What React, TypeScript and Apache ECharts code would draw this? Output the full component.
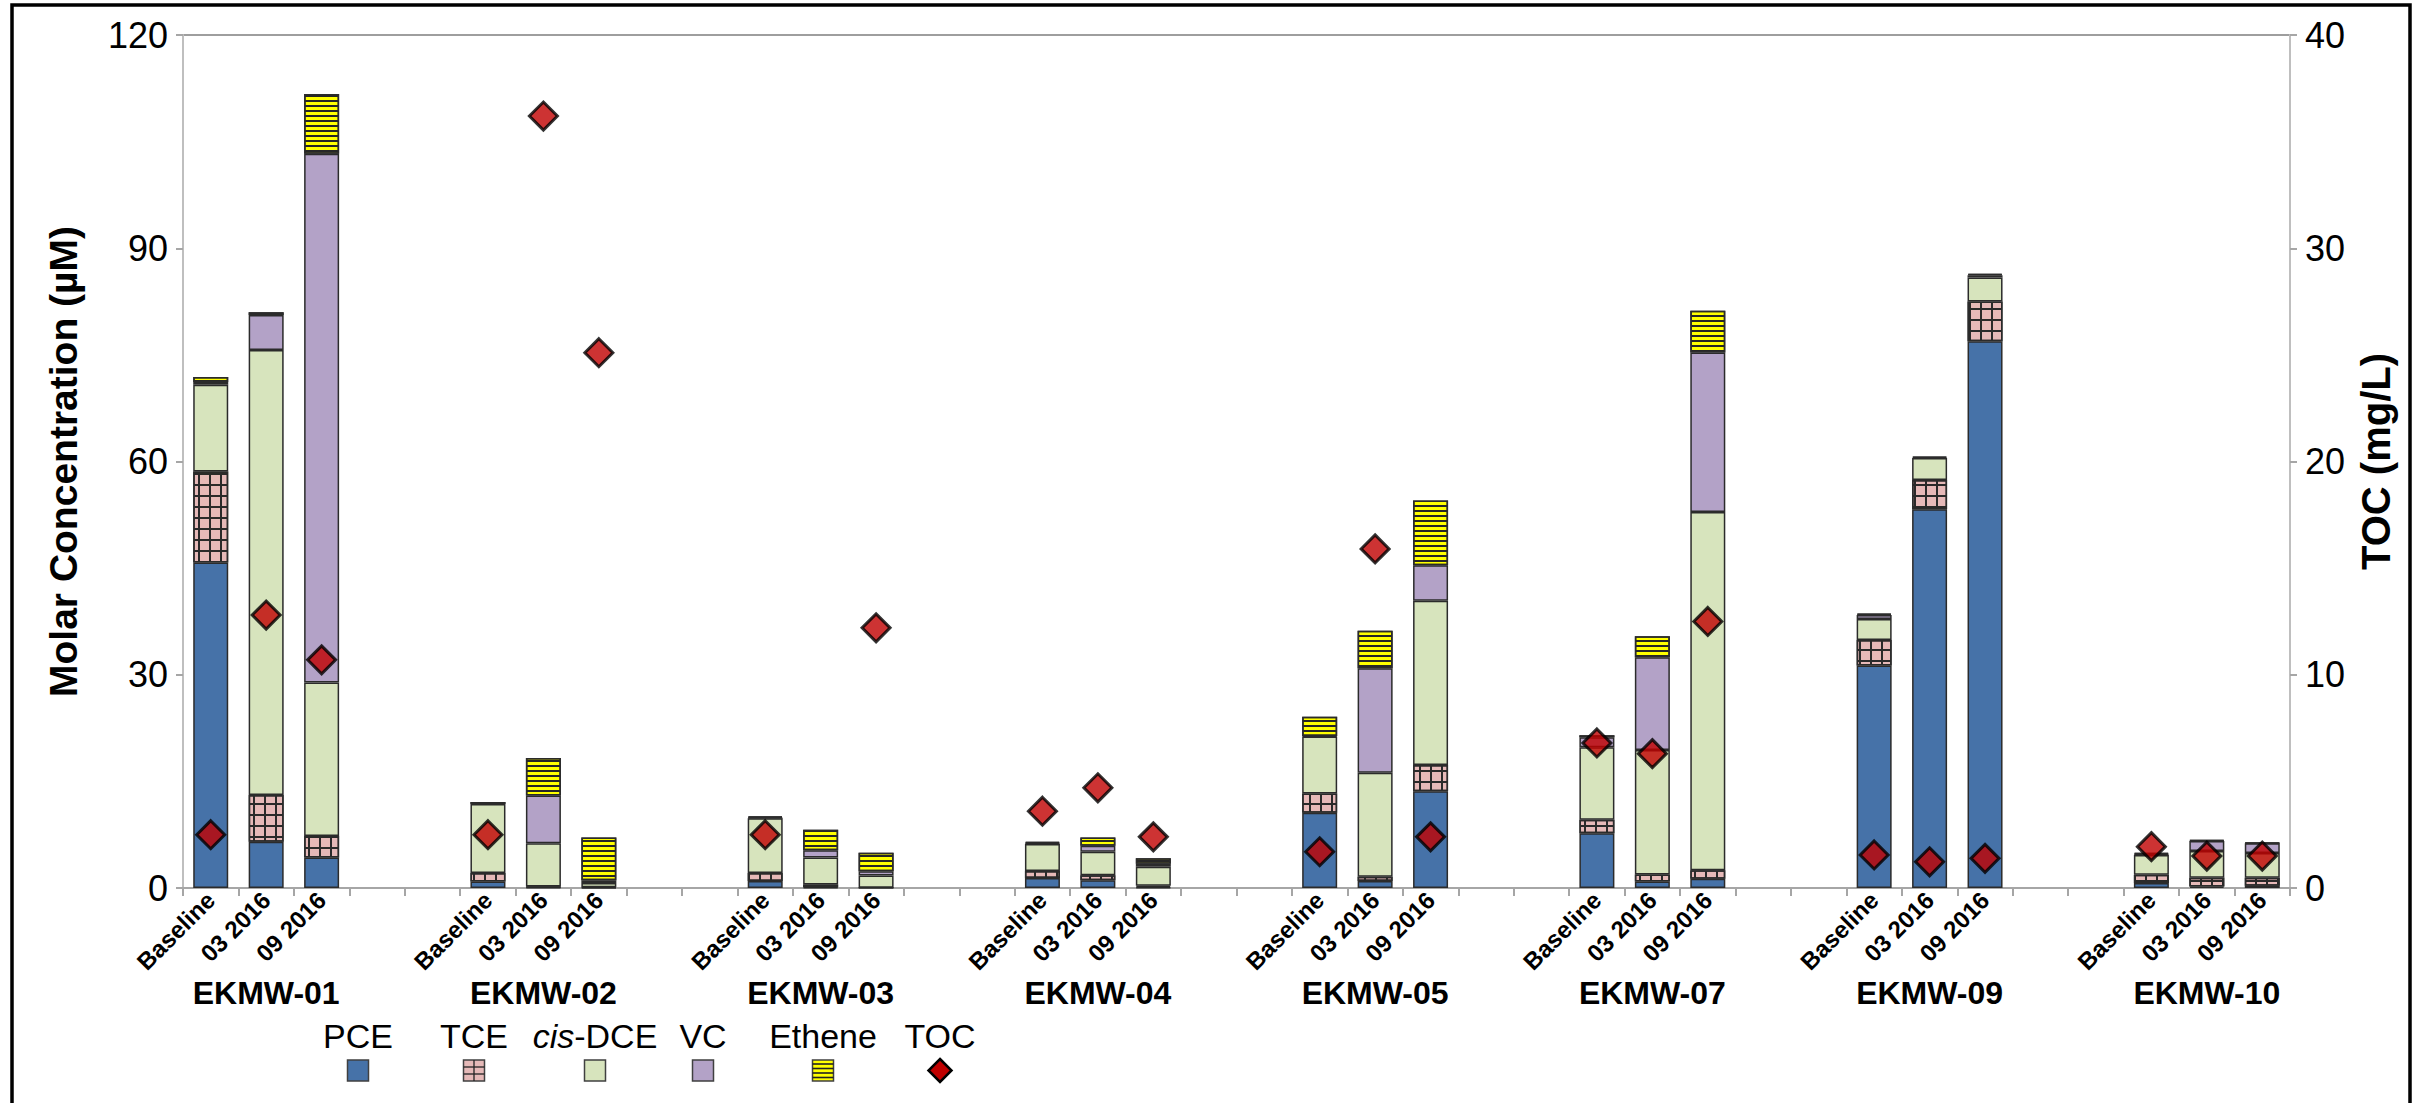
import React, { useEffect, useRef } from "react";
import * as echarts from "echarts";

// ---------- data ----------
const wells = ["EKMW-01", "EKMW-02", "EKMW-03", "EKMW-04", "EKMW-05", "EKMW-07", "EKMW-09", "EKMW-10"];
const samples = ["Baseline", "03 2016", "09 2016"];

// values in µM, ordered well by well, sample by sample
const pce = [45.8, 6.5, 4.3, 0.9, 0.1, null, 1.0, 0.1, null, 1.4, 1.1, 0.1, 10.6, 1.0, 13.6, 7.7, 0.9, 1.3, 31.3, 53.3, 76.9, 0.7, 0.2, 0.33];
const tce = [12.8, 6.6, 3.0, 1.2, 0.1, 0.1, 1.1, 0.4, 0.05, 1.0, 0.7, 0.2, 2.7, 0.6, 3.7, 1.9, 1.0, 1.2, 3.6, 4.1, 5.6, 1.15, 1.25, 1.1];
const cisDce = [12.2, 62.6, 21.6, 9.7, 6.1, 0.6, 7.7, 3.8, 1.7, 3.8, 3.3, 2.7, 8.0, 14.6, 23.1, 10.2, 17.5, 50.4, 2.95, 3.1, 3.4, 2.8, 3.75, 3.5];
const vc = [0.4, 4.9, 74.4, null, 6.7, 0.4, 0.1, 1.0, 0.6, 0.1, 0.85, 0.4, 0.1, 14.7, 5.0, 1.4, 13.05, 22.45, 0.55, null, 0.3, 0.1, 1.4, 1.35];
const ethene = [0.7, 0.4, 8.4, 0.3, 5.3, 6.0, 0.2, 2.9, 2.6, 0.2, 1.15, 0.8, 2.7, 5.3, 9.1, 0.3, 2.95, 5.85, 0.2, 0.2, 0.2, 0.2, 0.15, 0.1];
// TOC in mg/L
const toc = [2.5, 12.8, 10.7, 2.5, 36.2, 25.1, 2.5, null, 12.2, 3.6, 4.7, 2.4, 1.7, 15.9, 2.4, 6.8, 6.3, 12.5, 1.55, 1.23, 1.39, 1.94, 1.5, 1.5];

const leftAxis = { min: 0, max: 120, interval: 30 };
const rightAxis = { min: 0, max: 40, interval: 10 };

const GAP_SLOTS = 2;

function toSlots(vals: (number | null)[]): (number | null)[] {
  const out: (number | null)[] = [];
  wells.forEach((_, i) => {
    samples.forEach((__, j) => out.push(vals[i * samples.length + j]));
    if (i < wells.length - 1) for (let g = 0; g < GAP_SLOTS; g++) out.push(null);
  });
  return out;
}
function labelSlots(fn: (w: string, s: string, j: number) => string): string[] {
  const out: string[] = [];
  wells.forEach((w, i) => {
    samples.forEach((s, j) => out.push(fn(w, s, j)));
    if (i < wells.length - 1) for (let g = 0; g < GAP_SLOTS; g++) out.push("");
  });
  return out;
}

const FONT = '"Liberation Sans", Arial, Helvetica, sans-serif';

const C = {
  pce: "#4672A8",
  tce: "#E6B9B8",
  dce: "#D7E4BD",
  vc: "#B3A2C7",
  eth: "#FFFF00",
  toc: "#C00000",
  border: "#2b2b2b",
};

export default function App() {
  const ref = useRef<HTMLDivElement>(null);
  useEffect(() => {
    if (!ref.current) return;
    const chart = echarts.init(ref.current, undefined, { renderer: "svg" });

    const barBase = {
      type: "bar",
      stack: "total",
      barWidth: 35,
      xAxisIndex: 0,
      yAxisIndex: 0,
    };
    const border = { borderColor: C.border, borderWidth: 1.5 };

    const legendCenters = [358, 474, 595, 703, 823, 940];
    const legendNames = ["PCE", "TCE", "{i|cis}-DCE", "VC", "Ethene", "TOC"];
    const iconTop = 1060;
    const iconS = 21;
    const graphics: any[] = [];
    legendNames.forEach((n, k) => {
      graphics.push({
        type: "text",
        x: legendCenters[k],
        y: 1036,
        silent: true,
        style: {
          text: n,
          fontSize: 34,
          fontFamily: FONT,
          fill: "#000",
          align: "center",
          verticalAlign: "middle",
          rich: { i: { fontStyle: "italic", fontSize: 34, fontFamily: FONT, fill: "#000" } },
        },
      });
    });
    const fills = [C.pce, C.tce, C.dce, C.vc, C.eth];
    fills.forEach((f, k) => {
      const x0 = legendCenters[k] - iconS / 2;
      graphics.push({
        type: "rect",
        silent: true,
        shape: { x: x0, y: iconTop, width: iconS, height: iconS },
        style: { fill: f, stroke: "#404040", lineWidth: 1.5 },
      });
      if (k === 1) {
        graphics.push({ type: "line", silent: true, shape: { x1: x0 + iconS / 2, y1: iconTop, x2: x0 + iconS / 2, y2: iconTop + iconS }, style: { stroke: "#222", lineWidth: 1.3 } });
        [7, 14].forEach((d) =>
          graphics.push({ type: "line", silent: true, shape: { x1: x0, y1: iconTop + d, x2: x0 + iconS, y2: iconTop + d }, style: { stroke: "#222", lineWidth: 1.3 } })
        );
      }
      if (k === 4) {
        [4, 8.5, 13, 17.5].forEach((d) =>
          graphics.push({ type: "line", silent: true, shape: { x1: x0, y1: iconTop + d, x2: x0 + iconS, y2: iconTop + d }, style: { stroke: "#222", lineWidth: 1.6 } })
        );
      }
    });
    const tc = legendCenters[5];
    graphics.push({
      type: "polygon",
      silent: true,
      shape: { points: [[tc, 1059], [tc + 11.5, 1070.5], [tc, 1082], [tc - 11.5, 1070.5]] },
      style: { fill: C.toc, stroke: "#000", lineWidth: 2.5 },
    });
    graphics.push({
      type: "rect",
      silent: true,
      z: 100,
      shape: { x: 12, y: 5, width: 2398, height: 1130 },
      style: { fill: "none", stroke: "#000", lineWidth: 3.5 },
    });

    const option: any = {
      animation: false,
      backgroundColor: "#fff",
      grid: {
        left: 183,
        right: 140,
        top: 35,
        bottom: 215,
        show: true,
        borderColor: "#7F7F7F",
        borderWidth: 1.5,
      },
      xAxis: [
        {
          type: "category",
          data: labelSlots((w, s) => s),
          position: "bottom",
          axisLine: { show: true, lineStyle: { color: "#A6A6A6", width: 2 } },
          axisTick: { show: true, interval: 0, length: 8, lineStyle: { color: "#A6A6A6", width: 2 } },
          axisLabel: {
            interval: 0,
            rotate: 45,
            fontSize: 24,
            fontWeight: "bold",
            fontFamily: FONT,
            color: "#000",
            margin: 8,
          },
          splitLine: { show: false },
        },
        {
          type: "category",
          data: labelSlots((w, s, j) => (j === 1 ? w : "")),
          position: "bottom",
          axisLine: { show: false },
          axisTick: { show: false },
          axisLabel: {
            interval: 0,
            fontSize: 32,
            fontWeight: "bold",
            fontFamily: FONT,
            color: "#000",
            margin: 89,
          },
          splitLine: { show: false },
        },
      ],
      yAxis: [
        {
          type: "value",
          position: "left",
          ...leftAxis,
          name: "Molar Concentration (µM)",
          nameLocation: "middle",
          nameRotate: 90,
          nameGap: 100,
          nameTextStyle: { fontSize: 39, fontWeight: "bold", fontFamily: FONT, color: "#000" },
          axisLine: { show: true, lineStyle: { color: "#BFBFBF", width: 2 } },
          axisTick: { show: true, length: 7, lineStyle: { color: "#A6A6A6", width: 2 } },
          axisLabel: { fontSize: 36, fontFamily: FONT, color: "#000", margin: 15 },
          splitLine: { show: false },
        },
        {
          type: "value",
          position: "right",
          ...rightAxis,
          name: "TOC (mg/L)",
          nameLocation: "middle",
          nameRotate: 90,
          nameGap: 54,
          nameTextStyle: { fontSize: 40, fontWeight: "bold", fontFamily: FONT, color: "#000" },
          axisLine: { show: true, lineStyle: { color: "#BFBFBF", width: 2 } },
          axisTick: { show: true, length: 7, lineStyle: { color: "#A6A6A6", width: 2 } },
          axisLabel: { fontSize: 36, fontFamily: FONT, color: "#000", margin: 15 },
          splitLine: { show: false },
        },
      ],
      series: [
        { ...barBase, name: "PCE", data: toSlots(pce), itemStyle: { color: C.pce, ...border } },
        {
          ...barBase,
          name: "TCE",
          data: toSlots(tce),
          itemStyle: {
            color: C.tce,
            ...border,
            // dark grid lines drawn over the pink fill: a 2px solid row, then a row of 2px vertical segments
            decal: {
              symbol: "rect",
              symbolSize: 1,
              color: "#2a2a2a",
              dashArrayX: [[1, 0], [2, 9]],
              dashArrayY: [2, 0, 9, 0],
              rotation: 0,
            },
          },
        },
        { ...barBase, name: "cis-DCE", data: toSlots(cisDce), itemStyle: { color: C.dce, ...border } },
        { ...barBase, name: "VC", data: toSlots(vc), itemStyle: { color: C.vc, ...border } },
        {
          ...barBase,
          name: "Ethene",
          data: toSlots(ethene),
          itemStyle: {
            color: C.eth,
            ...border,
            decal: {
              symbol: "rect",
              symbolSize: 1,
              color: "#262626",
              dashArrayX: [1, 0],
              dashArrayY: [2, 3],
              rotation: 0,
            },
          },
        },
        {
          type: "scatter",
          name: "TOC",
          xAxisIndex: 0,
          yAxisIndex: 1,
          symbol: "diamond",
          symbolSize: 28,
          z: 5,
          itemStyle: { color: C.toc, borderColor: "#000", borderWidth: 3 },
          data: toSlots(toc),
        },
      ],
      graphic: graphics,
    };
    chart.setOption(option);
    return () => chart.dispose();
  }, []);
  return <div ref={ref} style={{ position: "absolute", left: 0, top: 0, width: 2430, height: 1103 }} />;
}
